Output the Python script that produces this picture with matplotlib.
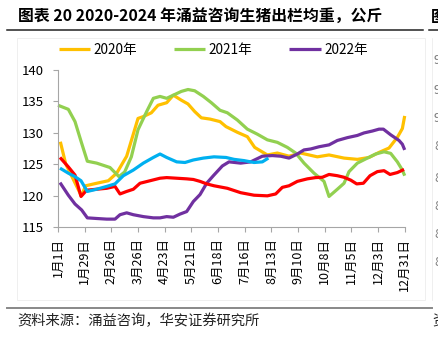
import numpy as np
import matplotlib
matplotlib.use("Agg")
import matplotlib.pyplot as plt
from matplotlib.lines import Line2D

plt.rcParams["font.family"] = ["Noto Sans CJK SC", "DejaVu Sans"]
plt.rcParams["axes.unicode_minus"] = False

# ── 数据（周序号 0 = 1月1日，52 = 12月31日）──────────────────────────────
tick_weeks = list(range(0, 53, 4))
tick_labels = ["1月1日", "1月29日", "2月26日", "3月26日", "4月23日", "5月21日",
               "6月18日", "7月16日", "8月13日", "9月10日", "10月8日", "11月5日",
               "12月3日", "12月31日"]

w_2020 = [0.35, 1.15, 3.5, 4.15, 5.8, 7.55, 8.8, 10.3, 12.0, 12.8, 14.0, 15.0,
          16.3, 17.3, 18.5, 19.5, 20.5, 21.5, 22.8, 24.3, 25.2, 26.9, 28.4,
          29.5, 31.4, 32.9, 34.65, 36.4, 38.9, 40.65, 42.9, 44.9, 46.65, 48.15,
          49.65, 50.9, 51.65, 52.0]
v_2020 = [128.6, 125.1, 120.0, 121.6, 122.0, 122.4, 123.6, 126.3, 132.3, 132.6,
          133.2, 134.4, 134.8, 136.0, 135.2, 134.6, 133.4, 132.4, 132.2, 131.8,
          131.0, 130.1, 129.4, 127.7, 126.5, 126.8, 126.3, 126.8, 126.2, 126.5,
          126.0, 125.8, 126.1, 126.9, 127.6, 129.3, 130.7, 132.7]

w_2021 = [0.0, 1.55, 2.55, 3.55, 4.4, 5.8, 7.8, 9.15, 10.0, 11.0, 12.0, 13.3,
          14.3, 15.3, 16.3, 17.3, 18.5, 19.5, 20.5, 21.8, 23.0, 24.3, 25.4,
          26.9, 28.4, 29.9, 31.4, 32.9, 34.4, 35.65, 36.9, 38.4, 39.9, 40.65,
          41.9, 42.9, 43.65, 44.9, 46.4, 47.65, 48.9, 49.9, 50.9, 51.65, 52.0]
v_2021 = [134.4, 133.75, 131.8, 128.35, 125.5, 125.2, 124.5, 123.05, 123.8,
          126.2, 130.5, 133.4, 135.5, 135.8, 135.5, 136.0, 136.6, 136.9, 136.7,
          135.8, 134.8, 133.6, 133.2, 132.05, 130.6, 129.8, 128.9, 128.5, 127.7,
          126.8, 125.2, 123.6, 122.3, 119.9, 121.05, 122.0, 123.85, 125.2,
          126.0, 126.65, 127.0, 126.75, 125.4, 124.1, 123.2]

w_2022 = [0.3, 1.55, 2.55, 3.55, 4.4, 5.8, 7.3, 8.55, 9.3, 10.3, 11.3, 12.8,
          14.3, 15.3, 16.3, 17.3, 18.3, 19.3, 20.3, 21.3, 22.3, 23.3, 24.65,
          25.65, 27.4, 28.9, 30.65, 32.15, 33.4, 34.65, 35.9, 36.9, 37.9,
          39.15, 40.65, 41.9, 43.4, 44.9, 45.9, 47.15, 48.15, 48.8, 49.9,
          51.15, 51.65, 52.0]
v_2022 = [122.1, 120.1, 118.7, 117.75, 116.5, 116.4, 116.3, 116.3, 117.0, 117.3,
          117.0, 116.7, 116.5, 116.5, 116.7, 116.6, 117.1, 117.5, 119.1, 120.2,
          122.0, 123.2, 124.75, 125.4, 125.2, 125.4, 126.3, 126.4, 126.3, 126.0,
          126.65, 127.3, 127.45, 127.8, 128.1, 128.8, 129.25, 129.6, 130.0,
          130.3, 130.6, 130.6, 129.7, 128.8, 128.2, 127.3]

w_2023 = [0.3, 1.55, 2.55, 3.45, 4.3, 5.8, 7.3, 8.55, 9.3, 10.3, 11.3, 12.3,
          13.8, 15.3, 16.3, 17.8, 19.3, 20.3, 21.3, 22.3, 23.4, 25.4, 27.4,
          29.4, 31.4, 32.65, 33.65, 34.65, 35.9, 37.4, 38.65, 39.65, 40.65,
          41.9, 42.9, 43.9, 44.8, 45.8, 46.8, 47.9, 48.9, 49.8, 50.9, 51.9]
v_2023 = [126.1, 124.6, 123.3, 119.9, 120.9, 121.05, 121.2, 121.5, 120.3, 120.7,
          121.05, 122.0, 122.4, 122.8, 122.9, 122.8, 122.7, 122.6, 122.3, 121.9,
          121.6, 121.2, 120.5, 120.1, 120.0, 120.3, 121.35, 121.6, 122.3, 122.7,
          122.9, 122.95, 123.4, 123.2, 122.95, 122.5, 121.9, 122.0, 123.2,
          123.85, 124.0, 123.4, 123.7, 124.2]

w_2024 = [0.3, 1.55, 2.55, 3.45, 4.4, 5.8, 7.3, 8.55, 9.8, 11.3, 12.8, 14.3,
          15.3, 16.3, 17.8, 19.05, 20.3, 21.8, 23.4, 25.2, 26.4, 27.9, 29.4,
          30.65, 31.55]
v_2024 = [124.4, 123.6, 123.05, 122.4, 120.7, 121.05, 121.5, 121.9, 123.2,
          124.1, 125.2, 126.1, 126.65, 126.1, 125.4, 125.3, 125.7, 126.0, 126.2,
          126.1, 125.8, 125.6, 125.3, 125.4, 126.0]

series = [
    ("2020年", w_2020, v_2020, "#FFC000"),
    ("2021年", w_2021, v_2021, "#92D050"),
    ("2022年", w_2022, v_2022, "#7030A0"),
    ("2023年", w_2023, v_2023, "#FF0000"),
    ("2024年", w_2024, v_2024, "#00B0F0"),
]

W, H = 439, 339


def fx(px):
    return px / W


def fy(py):
    return 1 - py / H


fig = plt.figure(figsize=(W / 100, H / 100), dpi=100)

# ── 外框、标题、来源 ─────────────────────────────────────────────────────
fig.add_artist(plt.Rectangle((fx(17), fy(300)), fx(425) - fx(17), fy(38) - fy(300),
                             fill=False, ec="#EDEDED", lw=0.6))
fig.add_artist(Line2D([fx(432), fx(432)], [fy(38), fy(300)], color="#EDEDED", lw=0.6))
fig.add_artist(Line2D([fx(7), fx(423)], [fy(30), fy(30)], color="#222222", lw=1.1))
fig.add_artist(Line2D([fx(429), fx(439)], [fy(30), fy(30)], color="#222222", lw=1.1))
fig.add_artist(Line2D([fx(7), fx(432)], [fy(308), fy(308)], color="#888888", lw=1.4))

fig.text(fx(18), fy(17), "图表 20 2020-2024 年涌益咨询生猪出栏均重，公斤",
         fontsize=11.4, fontweight="bold", va="center", ha="left")
fig.text(fx(431), fy(17), "图", fontsize=11.4, fontweight="bold", va="center", ha="left")
fig.text(fx(17), fy(321), "资料来源：涌益咨询，华安证券研究所",
         fontsize=10.3, va="center", ha="left", color="#222222")
fig.text(fx(432), fy(321), "资", fontsize=10.3, va="center", ha="left", color="#222222")
# 右侧相邻图表被裁掉的纵轴刻度
for py, t in zip([60, 90, 118, 147, 178, 207, 235, 263],
                 ["9", "9", "9", "8", "8", "8", "8", "8"]):
    fig.text(fx(434), fy(py), t, fontsize=9, va="center", ha="left", color="#7F7F7F")

# ── 主图 ─────────────────────────────────────────────────────────────────
ax = fig.add_axes([fx(58), fy(227.3), fx(404.7) - fx(58), fy(70) - fy(227.3)])
handles = []
for name, w, v, c in series:
    ln, = ax.plot(w, v, color=c, lw=2.3, solid_joinstyle="round",
                  solid_capstyle="butt", clip_on=False)
    handles.append(ln)

ax.set_xlim(0, 52)
ax.set_ylim(115, 140)
ax.set_yticks(range(115, 141, 5))
ax.set_xticks(tick_weeks)
ax.set_xticklabels(tick_labels, rotation=90, va="top", ha="center", fontsize=9)
ax.tick_params(axis="y", direction="out", length=3.5, width=0.8, color="#A6A6A6",
               labelsize=9.5, pad=7)
ax.tick_params(axis="x", direction="out", length=3.5, width=0.8, color="#A6A6A6",
               pad=4)
for s in ["top", "right"]:
    ax.spines[s].set_visible(False)
for s in ["left", "bottom"]:
    ax.spines[s].set_color("#A6A6A6")
    ax.spines[s].set_linewidth(0.8)
ax.set_facecolor("none")

fig.legend(handles[:3], [s[0] for s in series[:3]], loc="center left",
           bbox_to_anchor=(fx(59), fy(50)), ncol=3, frameon=False, fontsize=9.8,
           handlelength=2.3, handletextpad=0.25, columnspacing=2.7,
           borderpad=0, borderaxespad=0)

fig.savefig("out.png", dpi=100)
